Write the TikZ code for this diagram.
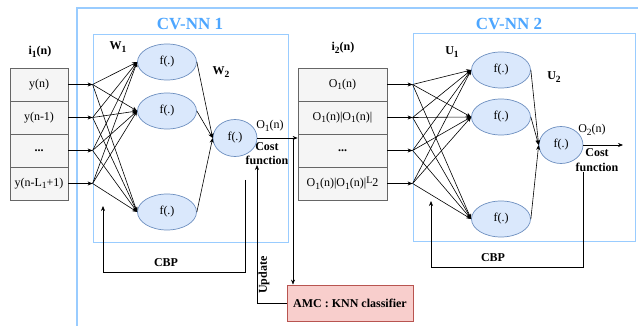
\documentclass[tikz,border=0pt]{standalone}
\usepackage{fontspec}
\setmainfont{Liberation Serif}
\usetikzlibrary{shapes.geometric,arrows.meta}
\definecolor{nfill}{HTML}{DAE8FC}
\definecolor{ndraw}{HTML}{6C8EBF}
\definecolor{bfill}{HTML}{F5F5F5}
\definecolor{bdraw}{HTML}{666666}
\definecolor{framec}{HTML}{99CCFF}
\definecolor{ttl}{HTML}{4DA6FF}
\definecolor{afill}{HTML}{F8CECC}
\definecolor{adraw}{HTML}{B85450}
\newcommand{\sbs}[1]{\raisebox{-0.45ex}{\fontsize{9.5}{10}\selectfont #1}}
\newcommand{\sps}[1]{\raisebox{0.55ex}{\fontsize{10}{10}\selectfont #1}}
\begin{document}
\begin{tikzpicture}[x=1pt,y=-1pt,
  every node/.style={font=\fontsize{12}{13}\selectfont, inner sep=0pt},
  neuron/.style={ellipse, draw=ndraw, fill=nfill, line width=0.7pt, minimum width=59, minimum height=36},
  oneuron/.style={neuron, minimum width=44, minimum height=37},
  cell/.style={draw=bdraw, fill=bfill, line width=0.7pt, minimum height=33},
  framebox/.style={draw=framec, line width=0.8pt},
  arr/.style={-{Stealth[length=5pt,width=4pt]}, line width=0.6pt},
  lbl/.style={font=\fontsize{12}{13}\selectfont\bfseries},
  title/.style={font=\fontsize{17}{18}\selectfont\bfseries, text=ttl},
  amcbox/.style={draw=adraw, fill=afill, line width=0.8pt, minimum width=126, minimum height=36, font=\fontsize{12}{13}\selectfont\bfseries}
]
\useasboundingbox (0,0) rectangle (638,326);
% outer frame
\draw[framec, line width=1.2pt] (640,8) -- (77,8) -- (77,328);
% inner frames
\node[framebox, minimum width=195, minimum height=208] (fr1) at (190.5,138) {};
\node[framebox, minimum width=222, minimum height=208] (fr2) at (524,137) {};
\node[title] at (190,24) {CV-NN 1};
\node[title] at (509,24) {CV-NN 2};

% input box 1
\node[cell, minimum width=58] (a1) at (39,84.5) {y(n)};
\node[cell, minimum width=58] (a2) at (39,117.5) {y(n-1)};
\node[cell, minimum width=58] (a3) at (39,150.5) {\textbf{...}};
\node[cell, minimum width=58] (a4) at (39,183.5) {y(n-L\sbs{1}+1)};
\node[lbl] at (40,52) {i\sbs{1}(n)};

% input box 2
\node[cell, minimum width=89] (b1) at (342.5,84.5) {O\sbs{1}(n)};
\node[cell, minimum width=89] (b2) at (342.5,117.5) {O\sbs{1}(n)|O\sbs{1}(n)|};
\node[cell, minimum width=89] (b3) at (342.5,150.5) {\textbf{...}};
\node[cell, minimum width=89] (b4) at (342.5,183.5) {O\sbs{1}(n)|O\sbs{1}(n)|\sps{L}2};
\node[lbl] at (343,48) {i\sbs{2}(n)};

% neurons net 1
\node[neuron] (h1) at (167,62) {f(.)};
\node[neuron] (h2) at (167,111) {f(.)};
\node[neuron] (h3) at (167,212) {f(.)};
\node[oneuron] (o1) at (235,138) {f(.)};
\node[lbl] at (118,47) {W\sbs{1}};
\node[lbl] at (221,72) {W\sbs{2}};

% neurons net 2
\node[neuron] (g1) at (501,70) {f(.)};
\node[neuron] (g2) at (501,117) {f(.)};
\node[neuron] (g3) at (501,219) {f(.)};
\node[oneuron] (o2) at (561,145) {f(.)};
\node[lbl] at (452,52) {U\sbs{1}};
\node[lbl] at (554,77) {U\sbs{2}};

% connections net 1
\foreach \i in {1,...,4}{
  \coordinate (p\i) at (a\i.east -| fr1.west);
  \draw[arr] (a\i.east) -- (p\i);
  \foreach \j in {1,2,3} \draw[arr] (p\i) -- (h\j.west);
}
\foreach \j in {1,2,3} \draw[arr] (h\j.east) -- (o1.west);

% connections net 2
\foreach \i in {1,...,4}{
  \coordinate (q\i) at (b\i.east -| fr2.west);
  \draw[arr] (b\i.east) -- (q\i);
  \foreach \j in {1,2,3} \draw[arr] (q\i) -- (g\j.west);
}
\foreach \j in {1,2,3} \draw[arr] (g\j.east) -- (o2.west);

% outputs
\draw[arr] (o1.east) -- (o1.east -| b1.west);
\node at (270,126) {O\sbs{1}(n)};
\node[lbl, align=center, font=\fontsize{12}{14.5}\selectfont\bfseries] at (267,153.5) {Cost\\function};
\coordinate (e2) at (623,145);
\draw[arr] (o2.east) -- (e2);
\node at (592,130) {O\sbs{2}(n)};
\node[lbl, align=center, font=\fontsize{12}{14.5}\selectfont\bfseries] at (597,160) {Cost\\function};

% AMC
\node[amcbox] (amc) at (350,303) {AMC : KNN classifier};
\coordinate (br) at (293,138);
\draw[arr] (br) -- (br |- amc.north);
\coordinate (up) at (257,165);
\draw[arr] (amc.west) -| (up);
\node[lbl, rotate=90] at (264,275) {Update};

% CBP 1
\coordinate (cb1s) at (245,180);
\coordinate (cb1e) at (103,206);
\draw[arr] (cb1s) -- ++(0,92) -| (cb1e);
\node[lbl] at (166,263) {CBP};

% CBP 2
\coordinate (cb2s) at (583,172);
\coordinate (cb2e) at (431,201);
\draw[arr] (cb2s) -- ++(0,95) -| (cb2e);
\node[lbl] at (493,258) {CBP};
\end{tikzpicture}
\end{document}
